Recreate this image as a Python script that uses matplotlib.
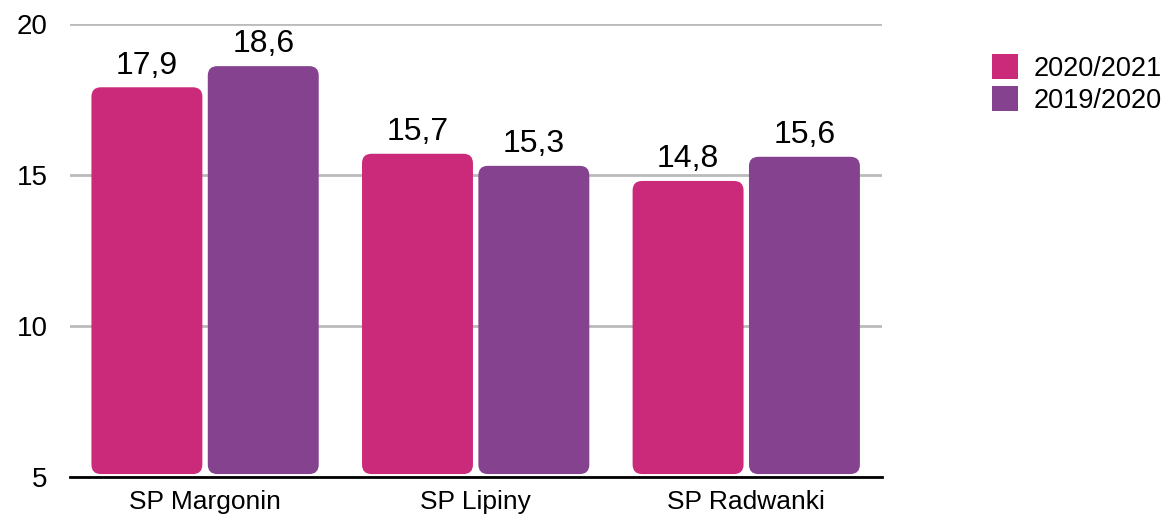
import matplotlib.pyplot as plt
from matplotlib.patches import FancyBboxPatch, Patch

plt.rcParams['font.family'] = ['Liberation Sans', 'DejaVu Sans']

# dane
schools = ['SP Margonin', 'SP Lipiny', 'SP Radwanki']
years = ['2020/2021', '2019/2020']
v_2020 = [17.9, 15.7, 14.8]
v_2019 = [18.6, 15.3, 15.6]
labels_2020 = ['17,9', '15,7', '14,8']
labels_2019 = ['18,6', '15,3', '15,6']
colors = ['#CB2A7B', '#84428F']

fig = plt.figure(figsize=(11.63, 5.18), dpi=100)
ax = fig.add_axes([0.060, 0.079, 0.698, 0.875])

ymin = 5
width = 0.41
offs = [-0.215, 0.215]
base = ymin + 0.1
pad = 0.035

for vals, labs, off, col in [(v_2020, labels_2020, offs[0], colors[0]),
                             (v_2019, labels_2019, offs[1], colors[1])]:
    for i, (v, lab) in enumerate(zip(vals, labs)):
        x0 = i + off - width / 2
        p = FancyBboxPatch((x0 + pad, base + pad * 8.9),
                           width - 2 * pad, v - base - 2 * pad * 8.9,
                           boxstyle='round,pad=%f,rounding_size=%f' % (pad, pad),
                           mutation_aspect=8.9, fc=col, ec='none', zorder=3)
        ax.add_patch(p)
        ax.text(i + off, v + 0.22, lab, ha='center', va='bottom', fontsize=23)

ax.set_xlim(-0.5, 2.5)
ax.set_ylim(5, 20)
ax.set_yticks([5, 10, 15, 20])
ax.set_yticklabels(['5', '10', '15', '20'], fontsize=20)
ax.set_xticks(range(3))
ax.set_xticklabels(schools, fontsize=19)
ax.tick_params(length=0)
ax.tick_params(axis='y', pad=16)
ax.tick_params(axis='x', pad=9)

ax.grid(axis='y', color='#BBBBBB', linewidth=2, zorder=0)
for s in ['top', 'right', 'left']:
    ax.spines[s].set_visible(False)
ax.spines['bottom'].set_linewidth(2)
ax.spines['bottom'].set_zorder(4)

handles = [Patch(fc=c, ec='none') for c in colors]
fig.legend(handles, years, loc='upper left', bbox_to_anchor=(0.853, 0.896),
           frameon=False, fontsize=19.5, handlelength=0.95, handleheight=1.05,
           handletextpad=0.6, labelspacing=0.15, borderpad=0, borderaxespad=0)

plt.savefig('out.png', dpi=100)
